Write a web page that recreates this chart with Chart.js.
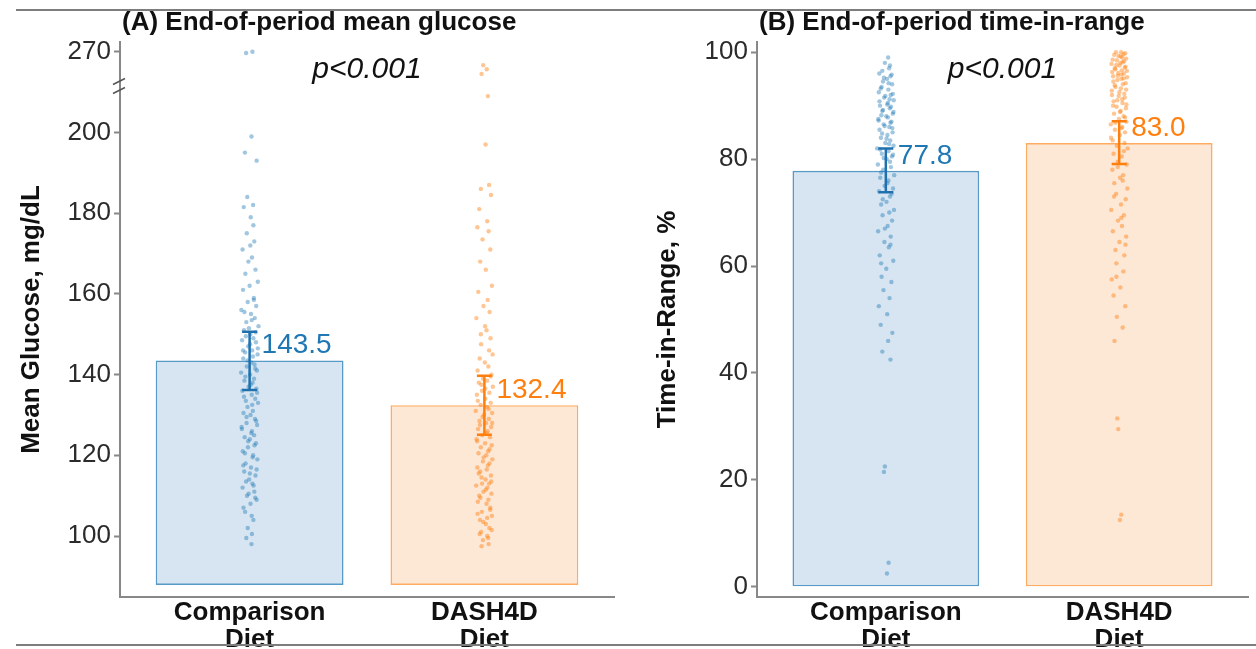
<!DOCTYPE html>
<html>
<head>
<meta charset="utf-8">
<title>End-of-period glucose and time-in-range</title>
<script src="https://cdn.jsdelivr.net/npm/chart.js@4.4.1/dist/chart.umd.min.js"></script>
<style>
  body { margin: 0; background: #fff; width: 1256px; height: 649px; overflow: hidden; position: relative; }
  #chartA { position: absolute; left: 0; top: 0; }
  #chartB { position: absolute; left: 640px; top: 0; }
  .rule { position: absolute; left: 16px; right: 0; height: 2px; background: #7d7d7d; z-index: 2; }
</style>
</head>
<body>
<div class="rule" style="top:9px"></div>
<canvas id="chartA" width="640" height="649"></canvas>
<canvas id="chartB" width="616" height="649"></canvas>
<div class="rule" style="top:644px"></div>
<script>
const FONT = '"Liberation Sans", Arial, Helvetica, sans-serif';

const CATEGORIES = [["Comparison", "Diet"], ["DASH4D", "Diet"]];

// (A) mean glucose, mg/dL
const GLUCOSE_MEANS = [143.5, 132.4];
const GLUCOSE_CI_LOW = [136.2, 125.1];
const GLUCOSE_CI_HIGH = [150.6, 139.7];
const GLUCOSE_TICKS = [100, 120, 140, 160, 180, 200, 270];

// (B) time-in-range, %
const TIR_MEANS = [77.8, 83.0];
const TIR_CI_LOW = [73.8, 79.1];
const TIR_CI_HIGH = [82.0, 87.1];
const TIR_TICKS = [0, 20, 40, 60, 80, 100];

// individual participants: [jitter, value]
const GLUCOSE_COMPARISON_POINTS = [
  [0.012,270],[-0.015,268],[0.008,199],[-0.02,195],[0.03,193],[-0.01,184],[0.015,182],[-0.025,181.5],[0.005,179],[0.02,173],
  [-0.03,171],[0.01,169],[-0.005,168],[0.025,166],[-0.018,165],[0.035,163],[0,162],[-0.028,161],[0.018,159],[-0.008,158],
  [0.028,157],[-0.035,156],[0.006,155],[0.022,154],[-0.014,153],[0.038,152],[-0.024,151],[0.003,150],[0.016,149],[-0.032,148.5],
  [0.027,148],[-0.006,147],[0.011,146],[-0.019,145.5],[0.034,145],[-0.027,144],[0.007,143],[0.021,142.5],[-0.012,142],[0.031,141],
  [-0.036,140.5],[0.002,140],[0.019,139],[-0.022,138.5],[0.013,138],[-0.004,137],[0.029,136.5],[-0.031,136],[0.009,135],[0.024,134],
  [-0.016,133.5],[0.036,133],[-0.009,132],[0.014,131],[-0.026,130.5],[0.004,130],[0.023,129],[-0.013,128],[0.032,127.5],[-0.034,127],
  [0.01,126],[0.019,125],[-0.021,124.5],[0.001,124],[0.027,123],[-0.007,122],[-0.029,121],[0.015,120],[0.033,119],[-0.017,118],
  [0.006,117],[-0.023,116],[0.025,115],[-0.002,114],[0.012,113],[-0.03,112],[0.02,111],[-0.011,110],[0.03,109],[0.004,108],
  [-0.019,106],[0.016,104],[-0.008,102],[0.01,100.5],[-0.014,99.5],[0.008,98],
  [0.018,158.5],[-0.022,155.5],[0.009,153.5],[-0.003,151.5],[0.026,150.5],[-0.016,149.5],[0.002,147.5],[0.035,146.5],[-0.028,146],[0.014,144.5],
  [-0.009,143.5],[0.024,141.5],[-0.018,139.5],[0.005,137.5],[0.032,135.5],[-0.024,134.5],[0.011,132.5],[-0.013,129.5],[0.028,128.5],[-0.033,126.5],
  [0.007,125.5],[-0.006,123.5],[0.021,122.5],[-0.02,120.5],[0.013,119.5],[-0.027,117.5],[0.03,116.5],[0.001,115.5],[-0.015,113.5],[0.017,112.5],
  [-0.004,110.5],[0.024,109.5],[-0.026,107],[0.009,105],[0.003,172],[-0.012,175],[0.016,177]
];
const GLUCOSE_DASH4D_POINTS = [
  [-0.005,250],[0.01,244],[-0.012,237],[0.015,209],[0.005,197],[0.02,187],[-0.015,186],[0.028,184.5],[-0.022,181],[0.012,178],
  [-0.03,176.5],[0.018,175.5],[-0.008,173.5],[0.025,171],[-0.018,168],[0.006,166],[0.032,162],[-0.026,160.5],[0.014,158.5],[-0.004,157],
  [0.022,155.5],[-0.034,154],[0.009,151],[0.026,149],[-0.014,147.5],[0.035,145],[-0.02,144],[0.002,143],[0.017,142],[-0.029,141],
  [0.03,140],[-0.006,139],[0.012,138.5],[-0.024,138],[0.036,137],[-0.01,136],[0.021,135.5],[-0.032,135],[0.004,134],[0.027,133],
  [-0.016,132.5],[0.011,132],[-0.037,131],[0.033,130.5],[-0.002,130],[0.019,129],[-0.021,128.5],[0.007,128],[0.029,127],[-0.027,126.5],
  [0.014,126],[-0.009,125],[0.024,124.5],[-0.033,124],[0.003,123],[0.031,122.5],[-0.015,122],[0.016,121],[-0.025,120.5],[0.008,120],
  [0.034,119],[-0.006,118.5],[0.022,118],[-0.03,117],[0.01,116.5],[-0.018,116],[0.028,115],[-0.012,114.5],[0.005,114],[0.02,113],
  [-0.035,112.5],[0.013,112],[-0.004,111],[0.03,110.5],[-0.022,110],[0.017,109],[-0.028,108.5],[0.009,108],[0.025,107],[-0.011,106],
  [0.032,105],[-0.019,104],[0.006,103],[0.021,102],[-0.014,101],[0.012,100],[-0.006,99],[0.018,98],
  [0.027,139.5],[-0.013,137.5],[0.004,136.5],[-0.028,133.5],[0.018,131.5],[-0.008,129.5],[0.033,128],[-0.019,127.5],[0.01,125.5],[-0.031,123.5],
  [0.022,121.5],[-0.003,119.5],[0.015,117.5],[-0.024,115.5],[0.029,113.5],[-0.01,113],[0.006,111.5],[-0.017,109.5],[0.025,106.5],[-0.029,105.5],
  [0.012,104.5],[-0.005,103.5],[0.031,101.5],[-0.02,100.5],[0.016,99.5],[-0.012,97.5],[0.003,152],[-0.015,150],[0.02,146]
];
const TIR_COMPARISON_POINTS = [
  [0.005,2.5],[0.012,4.5],[-0.008,21.5],[-0.004,22.5],[0.02,42.5],[-0.015,44],[0.01,46],[0.028,47.5],[-0.022,49],[0.006,51],
  [-0.03,52.5],[0.016,54],[-0.01,55.5],[0.024,57],[-0.018,58],[0.002,59.5],[0.032,61],[-0.026,62],[0.013,63.5],[-0.006,64.5],
  [0.021,65.5],[-0.033,66.5],[0.008,67.5],[0.027,68.5],[-0.014,69.5],[0.035,70.5],[-0.02,71.5],[0.003,72],[0.018,73],[-0.029,74],
  [0.031,74.5],[-0.005,75],[0.011,76],[-0.024,76.5],[0.036,77],[-0.011,78],[0.022,78.5],[-0.034,79],[0.004,80],[0.026,80.5],
  [-0.017,81],[0.012,81.5],[-0.037,82],[0.033,82.5],[-0.002,83],[0.019,83.5],[-0.021,84],[0.007,84.5],[0.029,85],[-0.027,85.5],
  [0.015,86],[-0.009,86.5],[0.024,87],[-0.032,87.5],[0.002,88],[0.03,88.5],[-0.015,89],[0.017,89.5],[-0.025,90],[0.009,90.5],
  [0.034,91],[-0.007,91.5],[0.021,92],[-0.03,92.5],[0.011,93],[-0.018,93.5],[0.027,94],[-0.012,94.5],[0.005,95],[0.02,95.5],
  [-0.028,96],[0.014,97],[-0.004,98],[0.01,99],
  [0.018,97.5],[-0.015,96.5],[0.025,95.8],[-0.008,95.2],[0.012,94.2],[-0.022,93.2],[0.03,92.2],[-0.002,91.8],[0.016,91.2],[-0.027,90.8],
  [0.006,90.2],[0.022,89.8],[-0.012,89.2],[0.033,88.8],[-0.019,88.2],[0.009,87.8],[-0.031,87.2],[0.02,86.8],[-0.005,86.2],[0.028,85.8],
  [-0.016,84.8],[0.003,83.8],[0.014,82.8],[-0.024,81.8],[0.031,80.8],[-0.009,80.2],[0.018,79.5],[-0.02,77.5],[0.007,75.5],[0.025,73.5],
  [-0.013,72.5],[0.015,70],[-0.004,67],[0.02,64],[-0.02,60.5]
];
const TIR_DASH4D_POINTS = [
  [0.003,12.5],[0.009,13.5],[-0.004,29.5],[-0.008,31.5],[-0.02,46],[0.015,48.5],[-0.01,50.5],[0.026,52.5],[-0.024,54.5],[0.005,56],
  [-0.032,57.5],[0.018,59],[-0.012,60.5],[0.022,62],[-0.016,63],[0.001,64.5],[0.03,65.5],[-0.027,66.5],[0.012,67.5],[-0.005,68.5],
  [0.02,69.5],[-0.034,70.5],[0.008,71.5],[0.028,72.5],[-0.013,73.5],[0.035,74.5],[-0.021,75.5],[0.004,76.5],[0.017,77],[-0.029,78],
  [0.032,79],[-0.006,79.5],[0.011,80.5],[-0.024,81],[0.036,82],[-0.01,82.5],[0.023,83],[-0.035,84],[0.003,84.5],[0.025,85],
  [-0.018,85.5],[0.013,86],[-0.036,86.5],[0.031,87],[-0.001,87.5],[0.019,88],[-0.022,88.5],[0.006,89],[0.029,89.5],[-0.026,90],
  [0.014,90.5],[-0.008,91],[0.024,91.5],[-0.031,92],[0.001,92.5],[0.03,93],[-0.016,93.5],[0.016,94],[-0.025,94.5],[0.009,95],
  [0.034,95.3],[-0.006,95.6],[0.02,96],[-0.03,96.3],[0.011,96.6],[-0.019,97],[0.027,97.3],[-0.012,97.6],[0.005,98],[0.021,98.3],
  [-0.028,98.6],[0.013,99],[-0.003,99.3],[0.018,99.6],[-0.014,100],[0.008,100],
  [0.026,99.8],[-0.021,99.5],[0.006,99.2],[0.03,98.8],[-0.01,98.5],[0.015,98.1],[-0.033,97.8],[0.002,97.5],[0.024,97.1],[-0.016,96.8],
  [0.033,96.5],[-0.004,96.1],[0.01,95.8],[-0.026,95.5],[0.019,95.1],[-0.008,94.8],[0.028,94.2],[-0.019,93.8],[0.007,93.2],[-0.032,92.8],
  [0.022,92.2],[-0.002,91.8],[0.013,91.2],[-0.024,90.8],[0.031,90.2],[-0.011,89.8],[0.004,88.8],[0.025,87.8],[-0.017,86.8],[0.01,85.8],
  [-0.028,83.5],[0.02,81.5],[-0.006,78.5],[0.015,76],[-0.022,73],[0.009,69],[0.027,64],[-0.012,58]
];

const GROUP_STYLE = [
  { fill: "#d6e5f1", border: "rgba(31,119,180,0.75)", point: "rgba(31,119,180,0.42)", error: "#1f70ad", text: "#1f77b4" },
  { fill: "#fde7d5", border: "rgba(255,127,14,0.65)", point: "rgba(255,127,14,0.45)", error: "#ff7f0e", text: "#ff7f0e" },
];

// broken glucose axis: everything above 210 is squeezed 6:1
const GLUCOSE_BREAK = 210;
function glucoseToAxis(v) {
  return v <= GLUCOSE_BREAK ? v : GLUCOSE_BREAK + (v - GLUCOSE_BREAK) / 6;
}
function identity(v) {
  return v;
}

const decorPlugin = {
  id: "panelDecor",
  afterDatasetsDraw(chart, args, o) {
    const ctx = chart.ctx;
    const area = chart.chartArea;
    const xs = chart.scales.x;
    const ys = chart.scales.y;
    ctx.save();

    ctx.fillStyle = "#111";
    ctx.font = `bold 26px ${FONT}`;
    ctx.textAlign = "left";
    ctx.textBaseline = "alphabetic";
    ctx.fillText(o.title, area.left + 2, 30);

    ctx.font = `italic 30px ${FONT}`;
    ctx.textAlign = "center";
    ctx.textBaseline = "middle";
    ctx.fillText(o.pText, (area.left + area.right) / 2, 70);

    o.means.forEach((mean, i) => {
      const style = GROUP_STYLE[i];
      const cx = xs.getPixelForValue(i + 1);
      const top = ys.getPixelForValue(o.map(o.high[i]));
      const bottom = ys.getPixelForValue(o.map(o.low[i]));
      ctx.strokeStyle = style.error;
      ctx.lineWidth = 2.5;
      ctx.beginPath();
      ctx.moveTo(cx, top);
      ctx.lineTo(cx, bottom);
      ctx.moveTo(cx - 7.5, top);
      ctx.lineTo(cx + 7.5, top);
      ctx.moveTo(cx - 7.5, bottom);
      ctx.lineTo(cx + 7.5, bottom);
      ctx.stroke();

      ctx.fillStyle = style.text;
      ctx.font = `28px ${FONT}`;
      ctx.textAlign = "left";
      ctx.textBaseline = "middle";
      ctx.fillText(mean.toFixed(1), cx + 12, ys.getPixelForValue(o.map(mean)) - 15);
    });

    if (o.breakAt) {
      const yb = ys.getPixelForValue(o.breakAt);
      const ax = area.left - 1;
      ctx.strokeStyle = "#555";
      ctx.lineWidth = 1.5;
      ctx.beginPath();
      [-4.5, 4.5].forEach((d) => {
        ctx.moveTo(ax - 6, yb + d + 3);
        ctx.lineTo(ax + 6, yb + d - 3);
      });
      ctx.stroke();
    }
    ctx.restore();
  },
};

function makePanel(canvasId, panel) {
  const pointSets = panel.points.map((rows, i) => ({
    type: "scatter",
    data: rows.map((row) => ({ x: i + 1 + row[0], y: panel.map(row[1]) })),
    backgroundColor: GROUP_STYLE[i].point,
    borderWidth: 0,
    pointRadius: 2.2,
    order: 1,
  }));

  return new Chart(document.getElementById(canvasId), {
    type: "bar",
    data: {
      datasets: [
        ...pointSets,
        {
          type: "bar",
          data: panel.means.map((m, i) => ({ x: i + 1, y: panel.map(m) })),
          base: panel.barBase,
          backgroundColor: GROUP_STYLE.map((s) => s.fill),
          borderColor: GROUP_STYLE.map((s) => s.border),
          borderWidth: 1.6,
          borderSkipped: false,
          categoryPercentage: 1,
          barPercentage: 0.8,
          order: 2,
        },
      ],
    },
    options: {
      responsive: false,
      animation: false,
      events: [],
      layout: { padding: { left: 0, right: panel.padRight, top: 42, bottom: 0 } },
      plugins: {
        legend: { display: false },
        title: { display: false },
        tooltip: { enabled: false },
        panelDecor: {
          title: panel.title,
          pText: "p<0.001",
          means: panel.means,
          low: panel.low,
          high: panel.high,
          map: panel.map,
          breakAt: panel.breakAt,
        },
      },
      scales: {
        x: {
          type: "linear",
          min: 0.448,
          max: 2.552,
          offset: false,
          afterBuildTicks: (scale) => {
            scale.ticks = CATEGORIES.map((c, i) => ({ value: i + 1 }));
          },
          afterFit: (scale) => {
            scale.height = 52;
          },
          ticks: {
            callback: (value) => CATEGORIES[Math.round(value) - 1],
            color: "#111",
            font: { family: FONT, size: 26, weight: "bold", lineHeight: 1.05 },
            padding: 2,
            maxRotation: 0,
            autoSkip: false,
          },
          grid: { display: true, drawOnChartArea: false, drawTicks: false },
          border: { display: true, color: "#888", width: 2 },
        },
        y: {
          type: "linear",
          min: panel.yMin,
          max: panel.yMax,
          afterBuildTicks: (scale) => {
            scale.ticks = panel.ticks.map((v) => ({ value: panel.map(v) }));
          },
          afterFit: (scale) => {
            scale.width = panel.axisWidth;
          },
          ticks: {
            callback: (value) => panel.ticks.find((v) => Math.abs(panel.map(v) - value) < 1e-6),
            color: "#2b2b2b",
            font: { family: FONT, size: 26 },
            padding: 3,
          },
          grid: { display: true, drawOnChartArea: false, tickLength: 6, tickColor: "#888", tickWidth: 2 },
          border: { display: true, color: "#888", width: 2 },
          title: {
            display: true,
            text: panel.yTitle,
            color: "#111",
            font: { family: FONT, size: 26, weight: "bold" },
            padding: { top: panel.titlePad, bottom: 0 },
          },
        },
      },
    },
    plugins: [decorPlugin],
  });
}

makePanel("chartA", {
  title: "(A) End-of-period mean glucose",
  yTitle: "Mean Glucose, mg/dL",
  means: GLUCOSE_MEANS,
  low: GLUCOSE_CI_LOW,
  high: GLUCOSE_CI_HIGH,
  ticks: GLUCOSE_TICKS,
  points: [GLUCOSE_COMPARISON_POINTS, GLUCOSE_DASH4D_POINTS],
  map: glucoseToAxis,
  breakAt: 211.5,
  barBase: 87.9,
  yMin: 84.9,
  yMax: 222.4,
  axisWidth: 120,
  padRight: 26,
  titlePad: 16,
});

makePanel("chartB", {
  title: "(B) End-of-period time-in-range",
  yTitle: "Time-in-Range, %",
  means: TIR_MEANS,
  low: TIR_CI_LOW,
  high: TIR_CI_HIGH,
  ticks: TIR_TICKS,
  points: [TIR_COMPARISON_POINTS, TIR_DASH4D_POINTS],
  map: identity,
  breakAt: null,
  barBase: 0,
  yMin: -1.9,
  yMax: 101.9,
  axisWidth: 117,
  padRight: 8,
  titlePad: 12,
});
</script>
</body>
</html>
